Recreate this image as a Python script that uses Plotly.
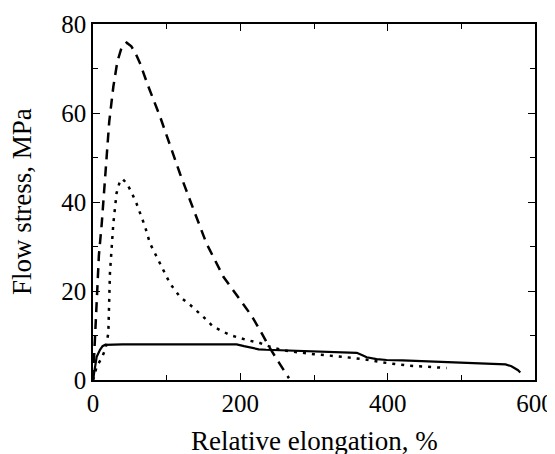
import plotly.graph_objects as go

# Dashed curve
dash_x = [0, 1, 2.7, 5, 8, 11.8, 16.3, 18.6, 22, 27.6, 33, 39, 45.7, 52, 58, 63.8, 75, 91, 105, 118, 131.7, 154, 177, 199.5, 215, 226.7, 240, 252, 263, 266]
dash_y = [0, 4, 10.5, 20, 28, 35, 45, 50, 58, 65.9, 71.5, 74.8, 75.8, 75.0, 73.3, 71.2, 66, 59.2, 52.5, 46.4, 40.4, 30.7, 23.2, 18.0, 14.5, 11.2, 7.2, 4.0, 1.2, 0.4]

# Dotted curve
dot_x = [0, 5, 12, 17, 20.8, 23, 27.6, 32, 36.7, 40, 45.7, 52, 59, 70.6, 77.4, 91, 104.5, 118, 131.7, 149.7, 163, 186, 208.6, 226.7, 245, 265, 300, 340, 370, 400, 430, 460, 480]
dot_y = [0, 3, 5, 7, 10.5, 24, 35.2, 42, 44.8, 45.2, 44.2, 42.3, 39.7, 34.5, 30.7, 26.2, 21.7, 18.7, 16.9, 14.2, 12.0, 10.1, 9.0, 8.3, 7.2, 6.5, 5.8, 5.2, 4.6, 3.8, 3.2, 2.9, 2.7]

# Solid curve
sol_x = [0, 2, 5, 9.5, 13, 16.3, 40, 80, 120, 160, 195, 205, 215, 225, 235, 254, 275, 300, 330, 358, 365, 371.5, 385, 398.6, 420, 450, 480, 510, 530, 552, 560, 568, 577, 580]
sol_y = [0, 2.5, 5.2, 6.8, 7.6, 7.9, 8.0, 8.0, 8.0, 8.0, 8.0, 7.6, 7.3, 6.9, 6.8, 6.7, 6.5, 6.3, 6.2, 6.1, 5.6, 5.1, 4.7, 4.5, 4.4, 4.2, 4.1, 3.9, 3.7, 3.6, 3.5, 3.1, 2.2, 1.7]

x_ticks = [0, 200, 400, 600]
y_ticks = [0, 20, 40, 60, 80]
x_title = "Relative elongation, %"
y_title = "Flow stress, MPa"

font = "Liberation Serif, Times New Roman, serif"

fig = go.Figure()
fig.add_trace(go.Scatter(x=dash_x, y=dash_y, mode="lines",
                         line=dict(color="black", width=2.5, dash="10px,7px"), showlegend=False))
fig.add_trace(go.Scatter(x=dot_x, y=dot_y, mode="lines",
                         line=dict(color="black", width=2.5, dash="3px,6px"), showlegend=False))
fig.add_trace(go.Scatter(x=sol_x, y=sol_y, mode="lines",
                         line=dict(color="black", width=2.2), showlegend=False))

axis_common = dict(showgrid=False, zeroline=False, showline=True, linecolor="black",
                   linewidth=1.5, mirror="allticks", ticks="inside", ticklen=7,
                   tickwidth=1.2, tickcolor="black", automargin=False,
                   ticklabeloverflow="allow",
                   tickfont=dict(family=font, size=25, color="black"))

# page body has an 8px margin, so the figure is shrunk/offset to land in place
fig.update_layout(
    width=547, height=446,
    margin=dict(l=85, r=20, t=16, b=74),
    paper_bgcolor="white", plot_bgcolor="white",
    font=dict(family=font, color="black"),
    xaxis=dict(range=[0, 600], tickvals=x_ticks,
               minor=dict(ticks="inside", dtick=100, ticklen=5, tickcolor="black", tickwidth=1.2),
               **axis_common),
    yaxis=dict(range=[0, 80], tickvals=y_ticks,
               minor=dict(ticks="inside", dtick=10, ticklen=5, tickcolor="black", tickwidth=1.2),
               **axis_common),
    annotations=[
        dict(text=x_title, xref="paper", yref="paper", x=0.5, y=0,
             xanchor="center", yanchor="middle", yshift=-61, showarrow=False,
             font=dict(family=font, size=27, color="black")),
        dict(text=y_title, xref="paper", yref="paper", x=0, y=0.5,
             xanchor="center", yanchor="middle", xshift=-71, textangle=-90, showarrow=False,
             font=dict(family=font, size=27, color="black")),
    ],
)

fig.write_html("out.html")
